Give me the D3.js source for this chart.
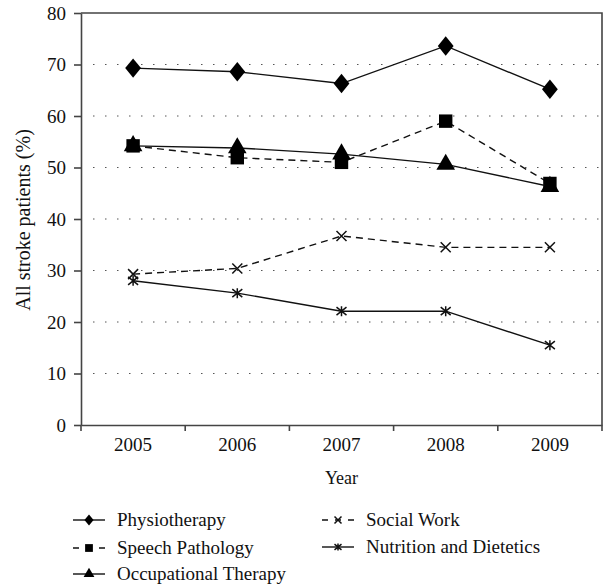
<!DOCTYPE html>
<html>
<head>
<meta charset="utf-8">
<script src="https://cdn.jsdelivr.net/npm/d3@7"></script>
<style>
  body { margin: 0; background: #fff; }
  text { font-family: "Liberation Serif", "DejaVu Serif", serif; fill: #111; }
</style>
</head>
<body>
<div id="chart"></div>
<script>
var width = 608
var height = 588

var years = ["2005", "2006", "2007", "2008", "2009"]
var yTicks = [0, 10, 20, 30, 40, 50, 60, 70, 80]

var physio = [69.3, 68.6, 66.3, 73.6, 65.2]
var speech = [54.2, 51.9, 51.0, 59.0, 46.9]
var occupational = [54.2, 53.8, 52.6, 50.6, 46.3]
var socialWork = [29.3, 30.4, 36.7, 34.5, 34.5]
var nutrition = [28.0, 25.6, 22.1, 22.1, 15.5]

var series = [
  { name: "Physiotherapy", values: physio, symbol: d3.symbolDiamond, size: 150, dash: null },
  { name: "Speech Pathology", values: speech, symbol: d3.symbolSquare, size: 180, dash: "7,5" },
  { name: "Occupational Therapy", values: occupational, symbol: d3.symbolTriangle, size: 150, dash: null },
  { name: "Social Work", values: socialWork, symbol: "x", size: 0, dash: "7,5" },
  { name: "Nutrition and Dietetics", values: nutrition, symbol: "star", size: 0, dash: null }
]

var margin = { left: 81, right: 6, top: 13, bottom: 163 }

var svg = d3.select("#chart")
  .append("svg")
    .attr("width", width)
    .attr("height", height)

var x = d3.scaleBand()
  .domain(years)
  .range([margin.left, width - margin.right])

var y = d3.scaleLinear()
  .domain([0, 80])
  .range([height - margin.bottom, margin.top])

// dotted grid lines
svg.append("g")
  .selectAll("line")
  .data(yTicks.filter(function(d){ return d > 0 && d < 80 }))
  .enter()
  .append("line")
    .attr("x1", margin.left + 12)
    .attr("x2", width - margin.right)
    .attr("y1", function(d){ return y(d) })
    .attr("y2", function(d){ return y(d) })
    .attr("stroke", "#555")
    .attr("stroke-width", 1)
    .attr("stroke-dasharray", "1.5,10.5")

// frame top / right
svg.append("path")
  .attr("d", "M" + margin.left + "," + y(80) + "H" + (width - margin.right) + "V" + y(0))
  .attr("fill", "none")
  .attr("stroke", "#444")
  .attr("stroke-width", 1.6)

// y axis
var yAxis = svg.append("g")
  .attr("transform", "translate(" + margin.left + ",0)")
  .call(d3.axisLeft(y).tickValues(yTicks).tickSize(7).tickSizeOuter(0))
yAxis.select(".domain").attr("stroke", "#444").attr("stroke-width", 1.6)
yAxis.selectAll(".tick line").attr("stroke", "#444").attr("stroke-width", 1.6)
yAxis.selectAll("text")
  .attr("x", -15)
  .attr("dy", "0.34em")
  .style("font-size", "19px")
  .style("font-family", "Liberation Serif, serif")
  .attr("fill", "#111")

// x axis, ticks at band edges
var xAxis = svg.append("g")
  .attr("transform", "translate(0," + y(0) + ")")
  .call(d3.axisBottom(x).tickSize(0).tickSizeOuter(0).tickPadding(13))
xAxis.select(".domain").attr("stroke", "#444").attr("stroke-width", 1.6)
xAxis.selectAll("text")
  .style("font-size", "19px")
  .style("font-family", "Liberation Serif, serif")
  .attr("fill", "#111")

var edges = years.map(function(d){ return x(d) }).concat([x(years[years.length - 1]) + x.bandwidth()])
svg.append("g")
  .selectAll("line")
  .data(edges)
  .enter()
  .append("line")
    .attr("x1", function(d){ return d })
    .attr("x2", function(d){ return d })
    .attr("y1", y(0))
    .attr("y2", y(0) + 6)
    .attr("stroke", "#444")
    .attr("stroke-width", 1.6)

// axis titles
svg.append("text")
  .attr("x", (margin.left + width - margin.right) / 2)
  .attr("y", 484)
  .attr("text-anchor", "middle")
  .style("font-size", "18px")
  .text("Year")

svg.append("text")
  .attr("transform", "translate(30,220) rotate(-90)")
  .attr("text-anchor", "middle")
  .style("font-size", "20px")
  .text("All stroke patients (%)")

var cx = function(i){ return x(years[i]) + x.bandwidth() / 2 }

var line = d3.line()
  .x(function(d, i){ return cx(i) })
  .y(function(d){ return y(d) })

function drawMarker(g, s, px, py, scale) {
  if (s.symbol === "x") {
    var r = 5 * scale
    g.append("path")
      .attr("d", "M" + (px - r) + "," + (py - r) + "L" + (px + r) + "," + (py + r) +
                 "M" + (px - r) + "," + (py + r) + "L" + (px + r) + "," + (py - r))
      .attr("stroke", "#111").attr("stroke-width", 1.5).attr("fill", "none")
  } else if (s.symbol === "star") {
    var r2 = 5 * scale
    g.append("path")
      .attr("d", "M" + (px - r2) + "," + (py - r2 * 0.8) + "L" + (px + r2) + "," + (py + r2 * 0.8) +
                 "M" + (px - r2) + "," + (py + r2 * 0.8) + "L" + (px + r2) + "," + (py - r2 * 0.8) +
                 "M" + px + "," + (py - r2) + "L" + px + "," + (py + r2))
      .attr("stroke", "#111").attr("stroke-width", 1.5).attr("fill", "none")
  } else {
    g.append("path")
      .attr("transform", "translate(" + px + "," + py + ")" + (s.symbol === d3.symbolDiamond ? " scale(1.2,0.85)" : ""))
      .attr("d", d3.symbol().type(s.symbol).size(s.size * scale * scale)())
      .attr("fill", "#000")
  }
}

// lines and markers
series.forEach(function(s) {
  var g = svg.append("g")
  g.append("path")
    .datum(s.values)
    .attr("d", line)
    .attr("fill", "none")
    .attr("stroke", "#111")
    .attr("stroke-width", 1.4)
    .attr("stroke-dasharray", s.dash)
  s.values.forEach(function(v, i) {
    drawMarker(g, s, cx(i), y(v), 1)
  })
})

// legend
var legendPos = [
  { x: 73, y: 520 }, { x: 73, y: 548 }, { x: 73, y: 574 },
  { x: 322, y: 520 }, { x: 322, y: 547 }
]
series.forEach(function(s, i) {
  var p = legendPos[i]
  var g = svg.append("g")
  g.append("line")
    .attr("x1", p.x).attr("x2", p.x + 32)
    .attr("y1", p.y).attr("y2", p.y)
    .attr("stroke", "#111")
    .attr("stroke-width", 1.4)
    .attr("stroke-dasharray", s.dash ? "6,7" : null)
  drawMarker(g, s, p.x + 16, p.y, s.symbol === "x" || s.symbol === "star" ? 0.7 : 0.58)
  g.append("text")
    .attr("x", p.x + 44)
    .attr("y", p.y + 6)
    .style("font-size", "19px")
    .text(s.name)
})
</script>
</body>
</html>
